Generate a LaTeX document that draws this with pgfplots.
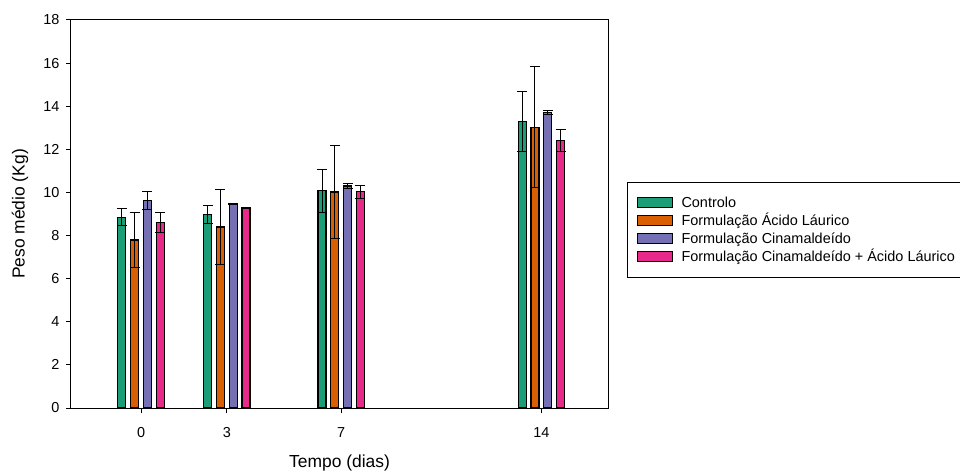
\documentclass[border=0pt]{standalone}
\usepackage{pgfplots}
\pgfplotsset{compat=1.18}
\usepackage{fontspec}
\setmainfont{Liberation Sans}
\definecolor{cA}{HTML}{1B9E77}
\definecolor{cB}{HTML}{D95F02}
\definecolor{cC}{HTML}{7570B3}
\definecolor{cD}{HTML}{E7298A}
\pgfplotstableread{
x y e
0 8.85 0.40
3 8.97 0.43
7 10.08 1.00
14 13.28 1.38
}\tA
\pgfplotstableread{
x y e
0 7.79 1.29
3 8.40 1.74
7 10.02 2.14
14 13.02 2.80
}\tB
\pgfplotstableread{
x y e
0 9.62 0.43
3 9.46 0.03
7 10.30 0.10
14 13.70 0.08
}\tC
\pgfplotstableread{
x y e
0 8.61 0.47
3 9.29 0.02
7 10.03 0.30
14 12.40 0.52
}\tD
\begin{document}
\fontsize{14.5}{17}\selectfont
\begin{tikzpicture}
\begin{axis}[
 scale only axis, width=537bp, height=388bp,
 xmin=-2.45, xmax=16.33, ymin=0, ymax=18,
 xtick={0,3,7,14}, ytick={0,2,...,18},
 xtick pos=bottom, ytick pos=left,
 tick align=outside, major tick length=5bp,
 every axis/.append style={line width=1bp},
 tick style={line width=1bp, black},
 axis line style={line width=1bp, black},
 /pgf/number format/assume math mode=true,
 ticklabel style={font=\fontsize{14.5}{17}\selectfont, inner sep=0pt},
 xticklabel style={anchor=north, yshift=-14bp},
 yticklabel style={anchor=east, xshift=-6bp},
 ybar, bar width=8bp,
 xlabel={Tempo (dias)}, ylabel={Peso médio (Kg)},
 label style={font=\fontsize{17.5}{20}\selectfont},
 xlabel style={at={(axis description cs:0.5,-0.142)}, anchor=center},
 ylabel style={at={(axis description cs:-0.095,0.5)}, anchor=center},
 legend style={at={(axis description cs:1.0354,0.5825)}, anchor=north west,
   draw=black, line width=1bp, inner xsep=9bp, inner ysep=13bp,
   row sep=3bp, /tikz/column sep=9bp,
   nodes={inner sep=0pt, text height=12.5bp, text depth=2.5bp},
   font=\fontsize{14.5}{17}\selectfont},
 legend cell align=left,
 legend image code/.code={\draw[#1, line width=1bp] (0bp,-5bp) rectangle (35bp,5bp);},
 error bars/y dir=both, error bars/y explicit,
 error bars/error bar style={line width=1bp, black},
 error bars/error mark options={rotate=90, black, mark size=5bp, line width=1bp},
]
\addplot[fill=cA, draw=black, line width=1.2bp, bar shift=-19.2bp] table[x=x, y=y, y error=e] {\tA};
\addplot[fill=cB, draw=black, line width=1.2bp, bar shift=-6.4bp] table[x=x, y=y, y error=e] {\tB};
\addplot[fill=cC, draw=black, line width=1.2bp, bar shift=6.4bp] table[x=x, y=y, y error=e] {\tC};
\addplot[fill=cD, draw=black, line width=1.2bp, bar shift=19.2bp] table[x=x, y=y, y error=e] {\tD};
\legend{Controlo, Formulação Ácido Láurico, Formulação Cinamaldeído, Formulação Cinamaldeído + Ácido Láurico}
\end{axis}
\pgfresetboundingbox
\path[use as bounding box] (-71bp,-64bp) rectangle (889bp,408bp);
\end{tikzpicture}
\end{document}
